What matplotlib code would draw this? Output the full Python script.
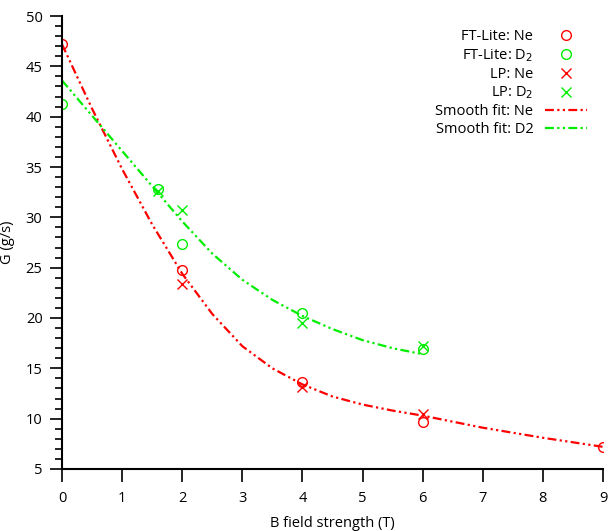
import matplotlib
matplotlib.use("Agg")
import matplotlib.pyplot as plt
from matplotlib.ticker import MultipleLocator

plt.rcParams['font.family'] = ['Open Sans', 'DejaVu Sans']
plt.rcParams['font.size'] = 10.5

# measured points
ft_ne_x = [0, 2, 4, 6, 9]
ft_ne_y = [47.2, 24.8, 13.6, 9.7, 7.2]
ft_d2_x = [0, 1.6, 2, 4, 6]
ft_d2_y = [41.3, 32.8, 27.4, 20.5, 16.9]
lp_ne_x = [2, 4, 6]
lp_ne_y = [23.4, 13.1, 10.5]
lp_d2_x = [1.6, 2, 4, 6]
lp_d2_y = [32.6, 30.7, 19.5, 17.2]

# smooth fit curves
fit_ne_x = [0, 0.5, 1, 1.5, 2, 2.5, 3, 3.5, 4, 4.5, 5, 5.5, 6, 7, 8, 9]
fit_ne_y = [47.2, 40.8, 34.8, 29.3, 24.4, 20.4, 17.2, 15.0, 13.4,
            12.2, 11.4, 10.8, 10.3, 9.1, 8.1, 7.2]
fit_d2_x = [0, 0.5, 1, 1.5, 2, 2.5, 3, 3.5, 4, 4.5, 5, 5.5, 6]
fit_d2_y = [43.6, 40.1, 36.6, 33.1, 29.6, 26.4, 23.8, 21.8, 20.2, 18.9,
            17.8, 17.0, 16.4]

red = '#ff0000'
green = '#00ee00'
dashdotdot = (0, (4, 1.5, 1, 1.5, 1, 1.5))

fig = plt.figure(figsize=(6.1, 5.31), dpi=100)
ax = fig.add_axes([0.1016, 0.1168, 0.887, 0.853])

ax.plot(ft_ne_x, ft_ne_y, 'o', mfc='none', mec=red, ms=7, mew=1, label='FT-Lite: Ne')
ax.plot(ft_d2_x, ft_d2_y, 'o', mfc='none', mec=green, ms=7, mew=1, label='FT-Lite: D$_2$')
ax.plot(lp_ne_x, lp_ne_y, 'x', color=red, ms=7, mew=1, label='LP: Ne')
ax.plot(lp_d2_x, lp_d2_y, 'x', color=green, ms=7, mew=1, label='LP: D$_2$')
ax.plot(fit_ne_x, fit_ne_y, color=red, lw=1.6, linestyle=dashdotdot, label='Smooth fit: Ne')
ax.plot(fit_d2_x, fit_d2_y, color=green, lw=1.6, linestyle=dashdotdot, label='Smooth fit: D2')

ax.set_xlim(0, 9)
ax.set_ylim(5, 50)
ax.xaxis.set_major_locator(MultipleLocator(1))
ax.yaxis.set_major_locator(MultipleLocator(5))
ax.yaxis.set_minor_locator(MultipleLocator(1))
ax.tick_params(axis='both', which='major', direction='out', length=9, width=1.2, colors='black')
ax.tick_params(axis='x', which='major', pad=7)
ax.tick_params(axis='y', which='major', pad=5)
ax.tick_params(axis='y', which='minor', direction='out', length=5, width=1.2)

for s in ['top', 'right']:
    ax.spines[s].set_visible(False)
for s in ['left', 'bottom']:
    ax.spines[s].set_linewidth(1.5)

ax.set_xlabel('B field strength (T)', labelpad=7)
ax.set_ylabel('G (g/s)', labelpad=8)

ax.legend(loc='upper right', bbox_to_anchor=(0.995, 1.0), frameon=False,
          markerfirst=False, handlelength=2.9, labelspacing=0.2, fontsize=10.5)

fig.savefig('out.png', dpi=100)
